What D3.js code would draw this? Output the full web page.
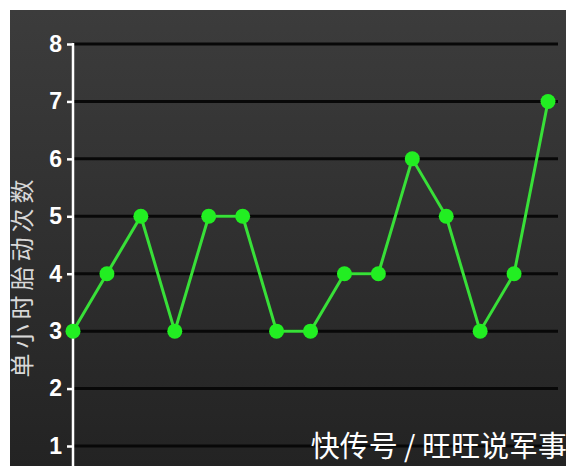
<!DOCTYPE html>
<html>
<head>
<meta charset="utf-8">
<script src="https://cdn.jsdelivr.net/npm/d3@7"></script>
<style>
  body { margin: 0; background: #fff; }
</style>
</head>
<body>
<div id="chart"></div>
<script>
// data
const hours = d3.range(1, 16);
const counts = [3, 4, 5, 3, 5, 5, 3, 3, 4, 4, 6, 5, 3, 4, 7];
const yTicks = [1, 2, 3, 4, 5, 6, 7, 8];
const yTitle = "单小时胎动次数";
const watermark = "快传号 / 旺旺说军事";

const W = 576, H = 466;

const svg = d3.select("#chart").append("svg")
  .attr("width", W)
  .attr("height", H);

// dark gradient panel
const defs = svg.append("defs");
const grad = defs.append("linearGradient")
  .attr("id", "bg")
  .attr("x1", 0).attr("y1", 0).attr("x2", 0).attr("y2", 1);
grad.append("stop").attr("offset", "0%").attr("stop-color", "#3c3c3c");
grad.append("stop").attr("offset", "100%").attr("stop-color", "#232323");

svg.append("rect")
  .attr("x", 10).attr("y", 10)
  .attr("width", 556).attr("height", H - 10)
  .attr("fill", "url(#bg)");

const x = d3.scaleLinear().domain([1, 15]).range([73, 548]);
const y = d3.scaleLinear().domain([1, 8]).range([446, 44]);

// grid lines
svg.append("g")
  .selectAll("line")
  .data(yTicks)
  .enter()
  .append("line")
  .attr("x1", 73)
  .attr("x2", 558)
  .attr("y1", d => y(d))
  .attr("y2", d => y(d))
  .attr("stroke", "#080808")
  .attr("stroke-width", 3);

// y axis
const yAxis = svg.append("g")
  .attr("transform", "translate(73,0)")
  .call(d3.axisLeft(y).tickValues(yTicks).tickFormat(d3.format("d")).tickSize(6).tickPadding(5));
yAxis.select(".domain")
  .attr("d", `M0,${y(8) - 1}V${H}`)
  .attr("stroke", "#fff")
  .attr("stroke-width", 2.5);
yAxis.selectAll(".tick line")
  .attr("stroke", "#fff")
  .attr("stroke-width", 2.5);
yAxis.selectAll(".tick text")
  .attr("fill", "#fff")
  .attr("font-family", "Liberation Sans Narrow, Liberation Sans, Arial, sans-serif")
  .attr("font-weight", "bold")
  .attr("font-size", 23);

// y title
svg.append("text")
  .attr("transform", "translate(31,276) rotate(-90)")
  .attr("text-anchor", "middle")
  .attr("fill", "#d8d8d8")
  .attr("font-family", "Noto Sans CJK SC, sans-serif")
  .attr("font-size", 24)
  .attr("letter-spacing", 5)
  .text(yTitle);

// line + points
const line = d3.line()
  .x((d, i) => x(hours[i]))
  .y(d => y(d));

svg.append("path")
  .datum(counts)
  .attr("d", line)
  .attr("fill", "none")
  .attr("stroke", "#38e038")
  .attr("stroke-width", 3);

svg.append("g")
  .selectAll("circle")
  .data(counts)
  .enter()
  .append("circle")
  .attr("cx", (d, i) => x(hours[i]))
  .attr("cy", d => y(d))
  .attr("r", 7.5)
  .attr("fill", "#22ee22");

// watermark
svg.append("text")
  .attr("x", 567)
  .attr("y", 457)
  .attr("text-anchor", "end")
  .attr("fill", "#fff")
  .attr("font-family", "Noto Sans CJK SC, sans-serif")
  .attr("font-size", 29)
  .text(watermark);
</script>
</body>
</html>
